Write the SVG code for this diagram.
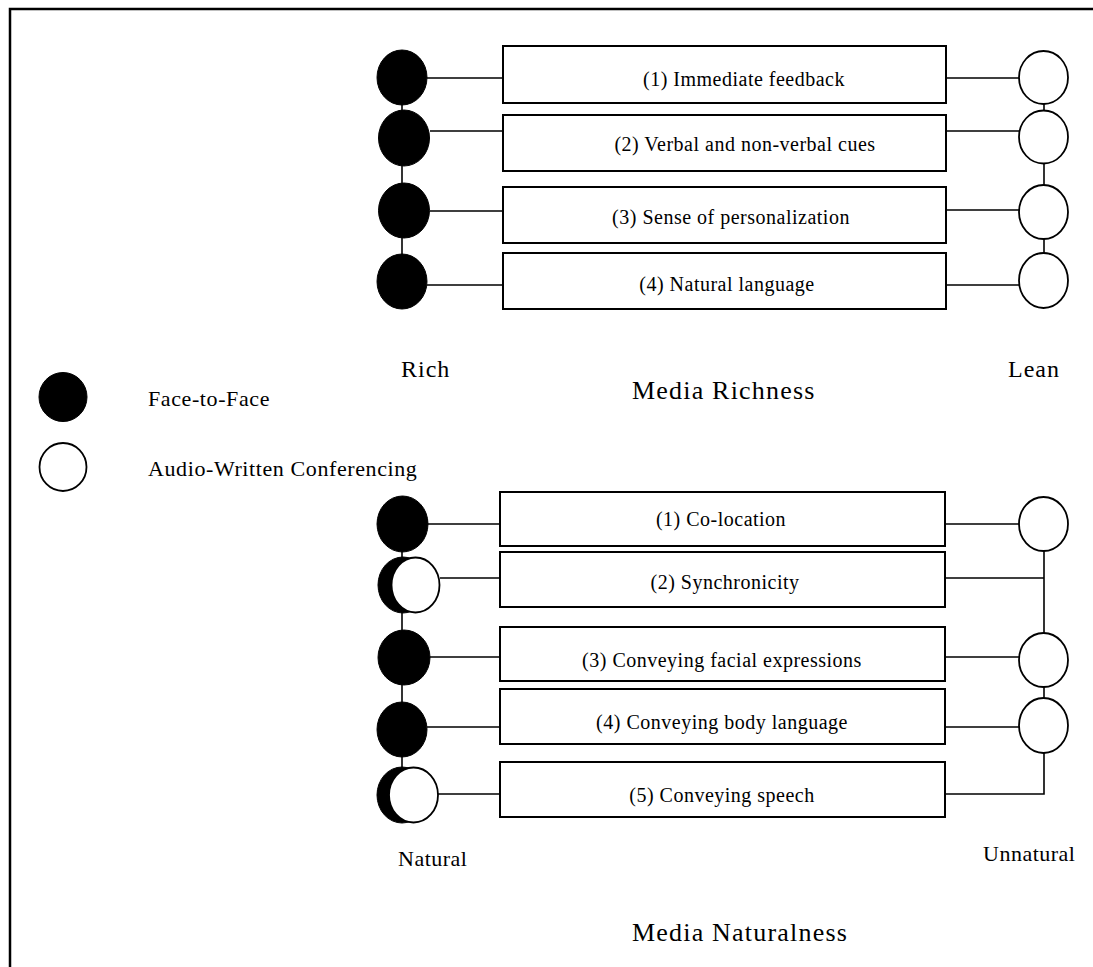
<svg xmlns="http://www.w3.org/2000/svg" width="1093" height="967" viewBox="0 0 1093 967">
<style>
.frame{fill:none;stroke:#000;stroke-width:2.5}
.box{fill:#fff;stroke:#000;stroke-width:2}
.ln{fill:none;stroke:#000;stroke-width:1.6}
.full{fill:#000;stroke:#000;stroke-width:1}
.empty{fill:#fff;stroke:#000;stroke-width:1.8}
.bt{font-family:"Liberation Serif","Times New Roman",serif;font-size:20px;letter-spacing:0.5px;text-anchor:middle;fill:#000}
.lt{font-family:"Liberation Serif","Times New Roman",serif;font-size:22px;letter-spacing:0.6px;fill:#000}
.big{font-family:"Liberation Serif","Times New Roman",serif;font-size:24px;letter-spacing:1px;fill:#000}
.mid{font-family:"Liberation Serif","Times New Roman",serif;font-size:22px;letter-spacing:0.5px;fill:#000}
.title{font-family:"Liberation Serif","Times New Roman",serif;font-size:26px;letter-spacing:1.2px;fill:#000}
</style>
<rect width="1093" height="967" fill="#fff"/>
<path class="frame" d="M10 975 V9 H1100"/>
<g id="connectors">
<path class="ln" d="M402 78 V282"/>
<path class="ln" d="M1044 78 V281"/>
<path class="ln" d="M427 78 H503 M430 131 H503 M430 211 H503 M427 285 H503"/>
<path class="ln" d="M946 78 H1019 M946 131 H1019 M946 210 H1019 M946 285 H1019"/>
<path class="ln" d="M402 524 V795"/>
<path class="ln" d="M1044 551 V633 M1044 687 V698 M1044 753 V794 H945 M945 578 H1044"/>
<path class="ln" d="M428 524 H500 M440 578 H500 M430 657 H500 M427 727 H500 M438 794 H500"/>
<path class="ln" d="M945 524 H1019 M945 657 H1019 M945 727 H1019"/>
</g>
<g id="rich-left">
<ellipse class="full" cx="402" cy="77.5" rx="25" ry="27.5"/>
<ellipse class="full" cx="404" cy="138" rx="25.5" ry="28"/>
<ellipse class="full" cx="404" cy="210.5" rx="25.5" ry="27.5"/>
<ellipse class="full" cx="402" cy="281.5" rx="25" ry="27.5"/>
</g>
<g id="rich-right">
<ellipse class="empty" cx="1043.5" cy="77.5" rx="24.5" ry="26.5"/>
<ellipse class="empty" cx="1043.5" cy="137" rx="24.5" ry="26.5"/>
<ellipse class="empty" cx="1043.5" cy="212" rx="24.5" ry="27"/>
<ellipse class="empty" cx="1043.5" cy="280.5" rx="24.5" ry="27.5"/>
</g>
<g id="box-r1"><rect class="box" x="503" y="46" width="443" height="57"/><text class="bt" x="744" y="86">(1) Immediate feedback</text></g>
<g id="box-r2"><rect class="box" x="503" y="115" width="443" height="56"/><text class="bt" x="745" y="151">(2) Verbal and non-verbal cues</text></g>
<g id="box-r3"><rect class="box" x="503" y="187" width="443" height="56"/><text class="bt" x="731" y="224">(3) Sense of personalization</text></g>
<g id="box-r4"><rect class="box" x="503" y="253" width="443" height="56"/><text class="bt" x="727" y="291">(4) Natural language</text></g>
<g id="label-rich"><text class="big" x="401" y="377">Rich</text></g>
<g id="label-lean"><text class="big" x="1008" y="377">Lean</text></g>
<g id="label-media-richness"><text class="title" x="632" y="399">Media Richness</text></g>
<g id="legend-f2f"><ellipse class="full" cx="63" cy="397" rx="24" ry="24.5"/><text class="lt" x="148" y="406">Face-to-Face</text></g>
<g id="legend-awc"><ellipse class="empty" cx="63" cy="467" rx="23.5" ry="24"/><text class="lt" x="148" y="476">Audio-Written Conferencing</text></g>
<g id="nat-left">
<ellipse class="full" cx="402.5" cy="524" rx="25.5" ry="28"/>
<ellipse class="full" cx="403" cy="585" rx="25" ry="28"/>
<ellipse class="empty" cx="415.5" cy="585" rx="24" ry="27.5"/>
<ellipse class="full" cx="404" cy="657.5" rx="26" ry="27.5"/>
<ellipse class="full" cx="402" cy="729.5" rx="25" ry="27.5"/>
<ellipse class="full" cx="402" cy="795" rx="25" ry="28"/>
<ellipse class="empty" cx="413.5" cy="795" rx="24.5" ry="27.5"/>
</g>
<g id="nat-right">
<ellipse class="empty" cx="1043.5" cy="524" rx="24.5" ry="27"/>
<ellipse class="empty" cx="1043.5" cy="660" rx="24.5" ry="27"/>
<ellipse class="empty" cx="1043.5" cy="725.5" rx="24.5" ry="27.5"/>
</g>
<g id="box-n1"><rect class="box" x="500" y="492" width="445" height="54"/><text class="bt" x="721" y="526">(1) Co-location</text></g>
<g id="box-n2"><rect class="box" x="500" y="552" width="445" height="55"/><text class="bt" x="725" y="589">(2) Synchronicity</text></g>
<g id="box-n3"><rect class="box" x="500" y="627" width="445" height="54"/><text class="bt" x="722" y="667">(3) Conveying facial expressions</text></g>
<g id="box-n4"><rect class="box" x="500" y="689" width="445" height="55"/><text class="bt" x="722" y="729">(4) Conveying body language</text></g>
<g id="box-n5"><rect class="box" x="500" y="762" width="445" height="55"/><text class="bt" x="722" y="802">(5) Conveying speech</text></g>
<g id="label-natural"><text class="mid" x="398" y="866">Natural</text></g>
<g id="label-unnatural"><text class="mid" x="983" y="861">Unnatural</text></g>
<g id="label-media-naturalness"><text class="title" x="632" y="941">Media Naturalness</text></g>
</svg>
